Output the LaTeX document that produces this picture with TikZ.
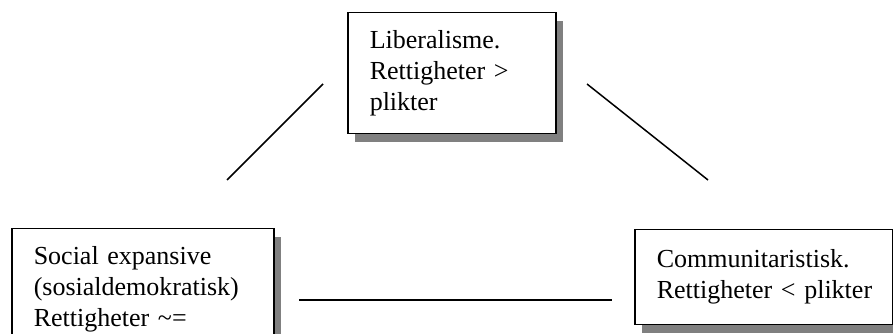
\documentclass[tikz,border=0pt]{standalone}
\usepackage{fontspec}
\setmainfont{Liberation Serif}
\usetikzlibrary{shadows}

\begin{document}
\begin{tikzpicture}[
            x = 1pt, y = 1pt,
            box/.style={draw, line width = 1.5pt, fill=white, anchor=north west,
                inner xsep=22pt, inner ysep=0pt, align=left,
                font=\fontsize{26}{31}\selectfont,
                drop shadow={shadow xshift=7pt, shadow yshift=-8pt, fill=black!50, opacity=1}},
            line/.style={line width = 1.5pt},
            ]
        \useasboundingbox (0, 0) rectangle (893, 334);

        \node[box, text width=164pt, minimum height=121pt] (liberal) at (347, 322)
            {Liberalisme.\\Rettigheter >\\plikter};
        \node[box, text width=218pt, minimum height=121pt] (sosial) at (11, 106)
            {Social expansive\\(sosialdemokratisk)\\Rettigheter \textasciitilde=};
        \node[box, text width=214pt, minimum height=95pt] (komm) at (634, 105)
            {Communitaristisk.\\\mbox{Rettigheter < plikter}};

        \coordinate (a1) at (227, 154);
        \coordinate (a2) at (323, 250);
        \coordinate (b1) at (587, 250);
        \coordinate (b2) at (708, 154);
        \coordinate (c1) at (299, 34);
        \coordinate (c2) at (612, 34);

        \draw[line] (a1) -- (a2);
        \draw[line] (b1) -- (b2);
        \draw[line] (c1) -- (c2);
    \end{tikzpicture}
\end{document}
